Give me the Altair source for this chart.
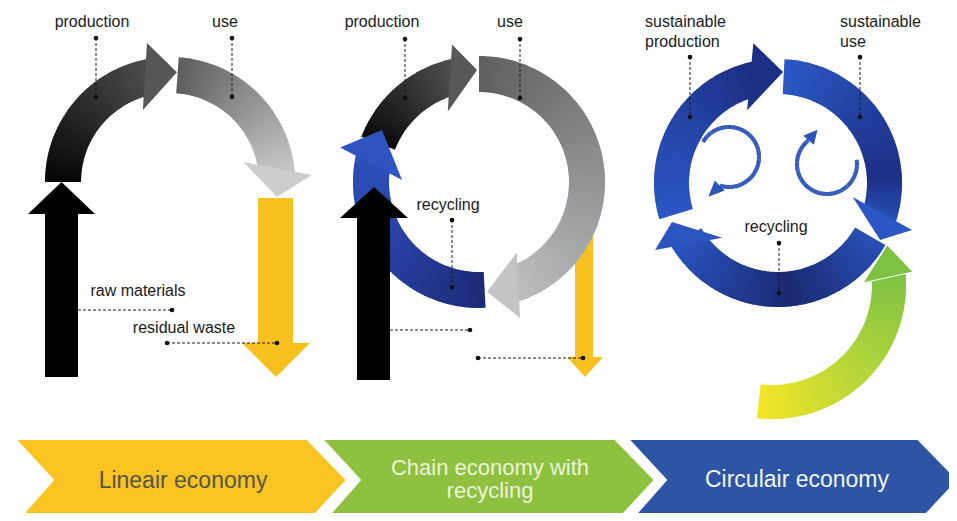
import math
import altair as alt
import pandas as pd

# ---------------- canvas (reference pixel space) ----------------
VIEW_W, VIEW_H = 941, 505
X_DOMAIN = [8, 949]
Y_DOMAIN = [8, 513]

# ---------------- text ----------------
top_labels = ["production", "use", "raw materials", "residual waste",
              "production", "use", "recycling", "recycling"]
top_label_x = [92, 225, 138, 184, 382, 510, 448, 776]
top_label_y = [27, 27, 296, 333, 27, 27, 210, 232]

side_labels = ["sustainable", "production", "sustainable", "use"]
side_label_x = [645, 645, 840, 840]
side_label_y = [27, 47, 27, 47]

banner_labels = ["Lineair economy", "Chain economy with", "recycling", "Circulair economy"]
banner_label_x = [183, 490, 490, 797]
banner_label_y = [488, 475, 498, 487]
banner_label_size = [23, 22, 22, 23]
banner_label_color = ["#55554c", "#eef2dc", "#eef2dc", "#f4f4f6"]

# ---------------- banner chevrons ----------------
chevron_stage = ["Lineair", "Chain", "Circulair"]
chevron_left = [15, 322, 628]
chevron_right = [307, 615, 918]
chevron_color = ["#f9c322", "#8dc13f", "#2c55a6"]
chevron_top, chevron_mid, chevron_bottom, chevron_depth = 439, 480, 523, 40

# ---------------- leader lines ----------------
leader_x1 = [96, 232, 78, 167, 405, 520, 452, 390, 478, 690, 860, 779]
leader_y1 = [38, 38, 310, 343, 39, 39, 220, 330, 358, 57, 57, 243]
leader_x2 = [96, 232, 172, 277, 405, 520, 452, 470, 583, 690, 860, 779]
leader_y2 = [97, 97, 310, 343, 98, 98, 287, 330, 358, 117, 117, 293]
dot_x = [96, 96, 232, 232, 172, 167, 277, 405, 405, 520, 520, 452, 452, 470,
         478, 583, 690, 690, 860, 860, 779, 779]
dot_y = [38, 97, 38, 97, 310, 343, 343, 39, 98, 39, 98, 220, 287, 330,
         358, 358, 57, 117, 57, 117, 243, 293]

# ---------------- straight arrows (shaft x0,x1 / head x0,x1 / tail, base, tip y) ----------------
straight_names = ["waste2", "waste1", "raw1", "raw2"]
straight_shaft = [(575, 593), (258, 293), (45, 78), (357, 390)]
straight_head = [(567, 603), (242, 310), (28, 95), (340, 408)]
straight_y = [(230, 357, 377), (198, 343, 377), (377, 214, 182), (380, 218, 187)]
straight_color = ["#f9c11f", "#f9c11f", "#000000", "#000000"]
straight_front = [False, True, True, True]

# ---------------- curved arrows ----------------
# name, centre, inner/outer radius, start angle, gradient stops,
# head: inner barb (angle, r), outer barb (angle, r), tip (angle, r), colour
curved = [
    ("p1 production", (170, 182), 89, 125, 180,
     [(0, "#060606"), (1, "#4c4d4f")], (110.6, 77), (99.4, 141), (86.4, 110), "#545658"),
    ("p1 use", (170, 182), 89, 125, 86,
     [(0, "#5b5d5f"), (1, "#c6c8ca")], (15.3, 76), (2.8, 142), (-8, 108), "#cbcdcf"),
    ("p2 production", (479, 182), 90, 126, 159,
     [(0, "#0a0a0a"), (1, "#4e5052")], (113.9, 77), (101.1, 140), (91, 112), "#56585a"),
    ("p2 use", (479, 182), 90, 126, 90,
     [(0, "#5d5f61"), (1, "#bcbec0")], (-61.8, 80), (-73.2, 142), (-85.8, 110), "#c2c4c6"),
    ("p2 recycling", (479, 182), 90, 126, 273,
     [(0, "#1d2a75"), (0.5, "#2640a0"), (1, "#2c50b8")], (178.5, 77), (166, 143), (151.8, 110), "#2d54c0"),
    ("p3 production", (778, 183), 89, 124, 197,
     [(0, "#2b56c4"), (0.5, "#2445a8"), (1, "#1c2e82")], (113, 79), (100, 142), (87.4, 111), "#1d3086"),
    ("p3 recycling", (778, 183), 89, 124, -30,
     [(0, "#2850b4"), (0.45, "#1a2a72"), (1, "#2b54c0")], (-135.5, 78), (-151.4, 140), (-159.8, 113), "#2c55c2"),
    ("p3 use", (778, 183), 89, 124, 87,
     [(0, "#2c58c6"), (0.45, "#22409e"), (0.8, "#1c3086"), (1, "#2750b6")], (-10.6, 76), (-19.3, 142), (-29.2, 117), "#2b56c4"),
]
green_arrow = ("p3 input", (772, 285), 100, 134, -96.5,
               [(0, "#f3e528"), (0.5, "#b6d63a"), (1, "#7dc243")], (1.3, 91), (5.3, 141.6), (19.2, 122), "#7dc243")

# small loop arrows: centre, r_in, r_out, start, end, head dir (screen deg), head length, half width
loops = [((729, 157), 28, 32, 150, -108, 135, 16, 7),
         ((827, 164), 28, 32, 8, -232, -50, 14, 7)]
loop_color = "#2d55b8"


# ---------------- helpers ----------------
def hex_rgb(h):
    h = h.lstrip("#")
    return [int(h[i:i + 2], 16) for i in (0, 2, 4)]


def mix(c0, c1, t):
    a, b = hex_rgb(c0), hex_rgb(c1)
    return "#" + "".join(f"{round(a[i] + (b[i] - a[i]) * t):02x}" for i in range(3))


def grad(stops, t):
    for i in range(len(stops) - 1):
        t0, c0 = stops[i]
        t1, c1 = stops[i + 1]
        if t <= t1:
            return mix(c0, c1, (t - t0) / (t1 - t0))
    return stops[-1][1]


def polar(c, a, r):
    return (c[0] + r * math.cos(math.radians(a)), c[1] - r * math.sin(math.radians(a)))


def unwrap(a, near):
    while a - near > 180:
        a -= 360
    while near - a > 180:
        a += 360
    return a


def cross_angle(c, A, B, r, near):
    ax, ay = A[0] - c[0], A[1] - c[1]
    dx, dy = B[0] - A[0], B[1] - A[1]
    qa = dx * dx + dy * dy
    qb = 2 * (ax * dx + ay * dy)
    qc = ax * ax + ay * ay - r * r
    disc = max(qb * qb - 4 * qa * qc, 0)
    best = 0.5
    for s in [(-qb + math.sqrt(disc)) / (2 * qa), (-qb - math.sqrt(disc)) / (2 * qa)]:
        if -0.1 <= s <= 1.1:
            best = s
    px, py = ax + best * dx, ay + best * dy
    return unwrap(math.degrees(math.atan2(-py, px)), near)


def arc_rows(c, ri, ro, a0, a1, stops, step=1.5):
    n = max(1, int(math.ceil(abs(a1 - a0) / step)))
    d = 1 if a1 > a0 else -1
    rows = []
    for i in range(n):
        s0 = a0 + (a1 - a0) * i / n
        s1 = a0 + (a1 - a0) * (i + 1) / n
        if i < n - 1:
            s1 += d * 0.6
        t0, t1 = math.radians(90 - s0), math.radians(90 - s1)
        rows.append(dict(x=c[0], y=c[1], ri=ri, ro=ro, t0=min(t0, t1), t1=max(t0, t1),
                         color=grad(stops, (i + 0.5) / n)))
    return rows


def poly_row(pts, color, stroke="#ffffff", sw=0.0):
    ax = sum(p[0] for p in pts) / len(pts)
    ay = sum(p[1] for p in pts) / len(pts)
    path = "M " + " L ".join(f"{x - ax:.2f} {y - ay:.2f}" for x, y in pts) + " Z"
    return dict(x=ax, y=ay, path=path, color=color, stroke=stroke, sw=sw)


def curved_parts(spec):
    name, c, ri, ro, a0, stops, hi, ho, ht, hcol = spec
    A, B = polar(c, *hi), polar(c, *ho)
    T = polar(c, *ht)
    d = 1 if ht[0] > a0 else -1
    near = (hi[0] + ho[0]) / 2
    e_in = cross_angle(c, A, B, ri, near)
    e_out = cross_angle(c, A, B, ro, near)
    end = e_in if d * e_in > d * e_out else e_out
    end += d * 0.5
    return arc_rows(c, ri, ro, a0, end, stops), poly_row([A, T, B], hcol)


# ---------------- build data ----------------
arcs_main, heads_main = [], []
for spec in curved:
    rows, head = curved_parts(spec)
    arcs_main += rows
    heads_main.append(head)

for (c, ri, ro, a0, a1, hdir, hlen, hw) in loops:
    arcs_main += arc_rows(c, ri, ro, a0, a1, [(0, loop_color), (1, loop_color)])
    bx, by = polar(c, a1, (ri + ro) / 2)
    ux, uy = math.cos(math.radians(hdir)), math.sin(math.radians(hdir))
    nx, ny = -uy, ux
    heads_main.append(poly_row([(bx + hw * nx, by + hw * ny), (bx + hlen * ux, by + hlen * uy),
                                (bx - hw * nx, by - hw * ny)], loop_color))

arcs_green, head_green = curved_parts(green_arrow)
head_green["sw"] = 1.0

back_polys, front_polys = [], []
for (sx, hx, yy, col, front) in zip(straight_shaft, straight_head, straight_y, straight_color, straight_front):
    tail, base, tip = yy
    pts = [(sx[0], tail), (sx[0], base), (hx[0], base), ((hx[0] + hx[1]) / 2, tip),
           (hx[1], base), (sx[1], base), (sx[1], tail)]
    (front_polys if front else back_polys).append(poly_row(pts, col))

chevrons = []
for L, R, col in zip(chevron_left, chevron_right, chevron_color):
    pts = [(L, chevron_top), (R, chevron_top), (R + chevron_depth, chevron_mid),
           (R, chevron_bottom), (L, chevron_bottom), (L + chevron_depth - 2, chevron_mid)]
    chevrons.append(poly_row(pts, col, "#ffffff", 2.0))

# ---------------- encodings ----------------
X = alt.X("x:Q", scale=alt.Scale(domain=X_DOMAIN, nice=False, zero=False), axis=None)
Y = alt.Y("y:Q", scale=alt.Scale(domain=Y_DOMAIN, nice=False, zero=False, reverse=True), axis=None)


def poly_layer(rows):
    return alt.Chart(pd.DataFrame(rows)).mark_point(filled=True, opacity=1, size=4).encode(
        x=X, y=Y,
        shape=alt.Shape("path:N", scale=None),
        color=alt.Color("color:N", scale=None),
        stroke=alt.Stroke("stroke:N", scale=None),
        strokeWidth=alt.StrokeWidth("sw:Q", scale=None),
    )


def arc_layer(rows):
    return alt.Chart(pd.DataFrame(rows)).mark_arc().encode(
        x=X, y=Y,
        theta=alt.Theta("t0:Q", scale=None, stack=False), theta2="t1:Q",
        radius=alt.Radius("ro:Q", scale=None), radius2="ri:Q",
        color=alt.Color("color:N", scale=None),
    )


def text_layer(texts, xs, ys, sizes, colors, align):
    df = pd.DataFrame(dict(text=texts, x=xs, y=ys, fs=sizes, color=colors))
    return alt.Chart(df).mark_text(align=align, baseline="alphabetic", font="Liberation Sans").encode(
        x=X, y=Y, text="text:N",
        size=alt.Size("fs:Q", scale=None),
        color=alt.Color("color:N", scale=None),
    )


rules = alt.Chart(pd.DataFrame(dict(x=leader_x1, y=leader_y1, x2=leader_x2, y2=leader_y2))).mark_rule(
    strokeDash=[3, 2], strokeWidth=1, color="#1a1a1a").encode(x=X, y=Y, x2="x2:Q", y2="y2:Q")
dots = alt.Chart(pd.DataFrame(dict(x=dot_x, y=dot_y))).mark_circle(size=22, opacity=1, color="#111111").encode(x=X, y=Y)

labels_c = text_layer(top_labels, top_label_x, top_label_y, [16] * len(top_labels), ["#1a1a1a"] * len(top_labels), "center")
labels_l = text_layer(side_labels, side_label_x, side_label_y, [16] * len(side_labels), ["#1a1a1a"] * len(side_labels), "left")
labels_b = text_layer(banner_labels, banner_label_x, banner_label_y, banner_label_size, banner_label_color, "center")

chart = alt.layer(
    poly_layer(back_polys),
    arc_layer(arcs_main),
    poly_layer(heads_main),
    poly_layer(front_polys),
    arc_layer(arcs_green),
    poly_layer([head_green]),
    poly_layer(chevrons),
    rules, dots, labels_c, labels_l, labels_b,
).properties(
    width=VIEW_W, height=VIEW_H, padding=0,
    autosize=alt.AutoSizeParams(type="none"),
).configure_view(strokeWidth=0)

chart.save("out.html", embed_options={"renderer": "svg", "actions": False})
